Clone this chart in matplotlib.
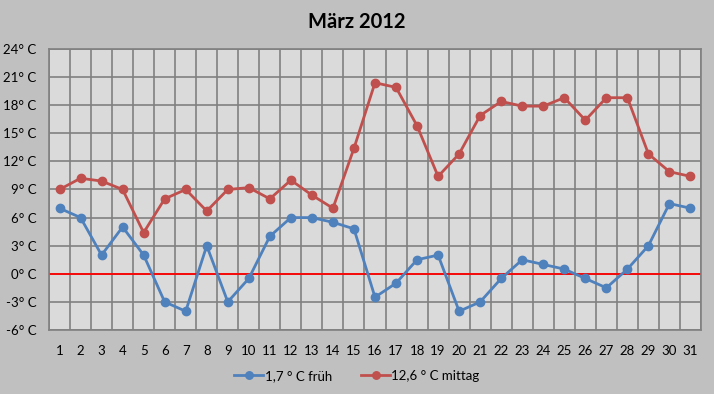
import numpy as np
import matplotlib.pyplot as plt
from matplotlib.ticker import FixedLocator

plt.rcParams['font.family'] = ['Lato', 'DejaVu Sans']

# data (March 2012, daily temperatures)
days = list(range(1, 32))
frueh = [7, 6, 2, 5, 2, -3, -4, 3, -3, -0.5, 4, 6, 6, 5.5, 4.8, -2.5,
         -1, 1.5, 2, -4, -3, -0.5, 1.5, 1, 0.5, -0.5, -1.5, 0.5, 3, 7.5, 7]
mittag = [9, 10.2, 9.9, 9, 4.4, 8, 9, 6.7, 9, 9.2, 8, 10, 8.4, 7, 13.4, 20.4,
          19.9, 15.8, 10.4, 12.8, 16.9, 18.4, 17.9, 17.9, 18.8, 16.4, 18.8,
          18.8, 12.8, 10.9, 10.4]
y_ticks = [-6, -3, 0, 3, 6, 9, 12, 15, 18, 21, 24]
label_frueh = '1,7 ° C früh'
label_mittag = '12,6 ° C mittag'

bg = '#c0c0c0'
fig = plt.figure(figsize=(7.14, 3.94), dpi=100, facecolor=bg)
ax = fig.add_axes([49 / 714, 1 - 330 / 394, 652 / 714, 281 / 394])
ax.set_facecolor('#dadada')

ax.axhline(0, color='#ff0000', linewidth=1.3, zorder=2)
ax.plot(days, frueh, color='#4f81bd', linewidth=2, marker='o', markersize=6,
        label=label_frueh, zorder=3)
ax.plot(days, mittag, color='#c0504d', linewidth=2, marker='o', markersize=6,
        label=label_mittag, zorder=3)

ax.set_xlim(0.5, 31.5)
ax.set_ylim(-6, 24)
ax.set_xticks(days)
ax.set_xticklabels([str(d) for d in days])
ax.xaxis.set_minor_locator(FixedLocator(np.arange(0.5, 32, 1)))
ax.set_yticks(y_ticks)
ax.set_yticklabels([f'{t}° C' for t in y_ticks])

ax.grid(True, which='minor', axis='x', color='#808080', linewidth=1.2)
ax.grid(True, which='major', axis='y', color='#808080', linewidth=1.2)
ax.set_axisbelow(True)
ax.tick_params(axis='x', which='both', length=0, pad=11, labelsize=9.5)
ax.tick_params(axis='y', length=0, pad=9, labelsize=9.5)
for s in ax.spines.values():
    s.set_color('#808080')
    s.set_linewidth(1.2)

fig.suptitle('März 2012', fontsize=14.5, fontweight='bold', y=0.97)
fig.legend(loc='center', bbox_to_anchor=(0.5, 1 - 376 / 394), ncol=2,
           frameon=False, fontsize=9.5, handlelength=2.2, handletextpad=0.1,
           columnspacing=2.2, markerscale=0.9)

fig.savefig('out.png', dpi=100, facecolor=bg)
